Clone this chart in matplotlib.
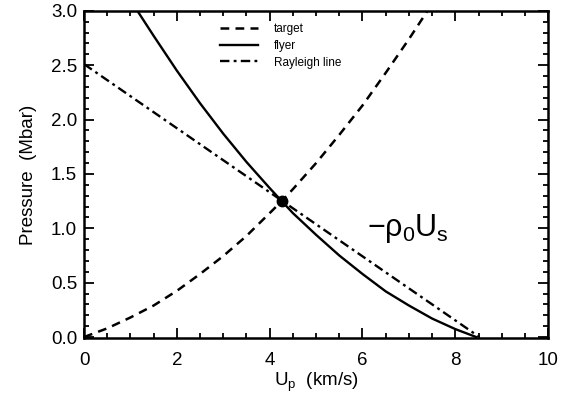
import matplotlib
matplotlib.use("Agg")
import matplotlib.pyplot as plt
from matplotlib.ticker import MultipleLocator

plt.rcParams["font.family"] = ["Liberation Sans", "DejaVu Sans"]
plt.rcParams["mathtext.fontset"] = "custom"
plt.rcParams["mathtext.rm"] = "Liberation Sans"
plt.rcParams["mathtext.it"] = "Liberation Sans"

# target Hugoniot
target_up = [0.0, 0.5, 1.0, 1.5, 2.0, 2.5, 3.0, 3.5, 4.0, 4.26, 4.5, 5.0, 5.5, 6.0, 6.5, 7.0, 7.4]
target_p = [0.0, 0.08, 0.18, 0.29, 0.425, 0.58, 0.745, 0.93, 1.14, 1.25, 1.36, 1.60, 1.86, 2.13, 2.43, 2.74, 3.0]

# flyer (reflected) Hugoniot
flyer_up = [1.15, 1.5, 2.0, 2.5, 3.0, 3.5, 4.0, 4.26, 4.5, 5.0, 5.5, 6.0, 6.5, 7.0, 7.5, 8.0, 8.45]
flyer_p = [3.0, 2.77, 2.45, 2.15, 1.87, 1.61, 1.37, 1.25, 1.14, 0.94, 0.75, 0.58, 0.42, 0.29, 0.17, 0.073, 0.0]

# Rayleigh line
ray_up = [0.0, 8.52]
ray_p = [2.51, 0.0]

# matching point
match_up = 4.26
match_p = 1.25

fig = plt.figure(figsize=(5.68, 4.03), dpi=100)
ax = fig.add_axes([0.148, 0.161, 0.817, 0.812])

ax.plot(target_up, target_p, "k--", lw=1.8, dashes=(3.5, 2.5), label="target")
ax.plot(flyer_up, flyer_p, "k-", lw=1.7, label="flyer")
ax.plot(ray_up, ray_p, "k-.", lw=1.7, dashes=(4, 1.8, 1.2, 1.8), label="Rayleigh line")
ax.plot([match_up], [match_p], "ko", ms=7.5)

ax.text(6.97, 1.0, r"$-\rho_0 U_s$", fontsize=22, ha="center", va="center")

ax.set_xlim(0, 10)
ax.set_ylim(-0.01, 3.0)
ax.xaxis.set_major_locator(MultipleLocator(2))
ax.xaxis.set_minor_locator(MultipleLocator(0.5))
ax.yaxis.set_major_locator(MultipleLocator(0.5))
ax.yaxis.set_minor_locator(MultipleLocator(0.1))
ax.yaxis.set_major_formatter(plt.FormatStrFormatter("%.1f"))

ax.tick_params(which="both", direction="in", top=True, right=True, labelsize=13.5, width=1.3)
ax.tick_params(which="major", length=7)
ax.tick_params(which="minor", length=3.5)
ax.tick_params(axis="x", which="major", pad=10)
ax.tick_params(axis="y", which="major", pad=5)
for s in ax.spines.values():
    s.set_linewidth(1.8)

ax.set_xlabel(r"U$_\mathregular{p}$  (km/s)", fontsize=13.5, labelpad=1)
ax.set_ylabel("Pressure  (Mbar)", fontsize=13.5, labelpad=10)

ax.legend(loc="upper left", bbox_to_anchor=(0.27, 0.995), frameon=False, fontsize=8.5,
          handlelength=3.2, handletextpad=1.4, labelspacing=0.4)

fig.savefig("out.png", dpi=100)
